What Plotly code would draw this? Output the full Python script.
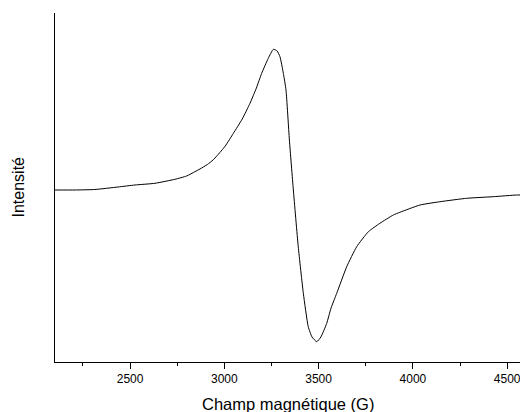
import plotly.graph_objects as go

# Magnetic field (G) and intensity (arbitrary units)
field = [2102, 2208, 2314, 2436, 2526, 2632, 2738, 2800, 2844, 2871, 2910, 2940, 2960,
         3005, 3048, 3095, 3136, 3170, 3198, 3233, 3260, 3280, 3295, 3313, 3327, 3345, 3366, 3392,
         3419, 3445, 3465, 3490, 3512, 3543, 3566, 3596, 3649, 3702, 3764,
         3825, 3896, 3931, 4038, 4144, 4285, 4426, 4550, 4568]
intensity = [0, 0, 0.5, 3, 5, 6.7, 10.7, 14, 18.3, 21, 25.5, 30, 34,
             44, 56.7, 71, 86.7, 102, 116.7, 131.7, 140.7, 139, 133.3, 116.7, 100, 50, 0, -56.7,
             -103.3, -136.7, -147, -151.7, -147, -133.3, -118, -103.3, -76.7, -56.7, -41.7,
             -33.3, -25, -22.3, -15, -11.7, -8.3, -6.7, -5, -5]

x_ticks = [2500, 3000, 3500, 4000, 4500]
x_minor = [2250, 2750, 3250, 3750, 4250]

fig = go.Figure(go.Scatter(
    x=field, y=intensity, mode="lines",
    line=dict(color="black", width=1, shape="spline", smoothing=0.5),
    hoverinfo="skip", showlegend=False,
))

fig.update_layout(
    width=520, height=412,
    margin=dict(l=55, r=0, t=13, b=50),
    paper_bgcolor="white", plot_bgcolor="white",
    font=dict(family="Liberation Sans, Arial, sans-serif", color="black"),
    xaxis=dict(
        range=[2102, 4568], tickvals=x_ticks, ticktext=[str(v) for v in x_ticks],
        automargin=False, ticklabeloverflow="allow",
        showline=True, linecolor="black", linewidth=1, mirror=False,
        ticks="outside", ticklen=6, tickwidth=1, tickcolor="black",
        minor=dict(tickvals=x_minor, ticks="outside",
                   ticklen=3, tickwidth=1, tickcolor="black"),
        showgrid=False, zeroline=False,
        tickfont=dict(size=12),
    ),
    yaxis=dict(
        range=[-172, 177], automargin=False,
        showline=True, linecolor="black", linewidth=1,
        showticklabels=False, ticks="", showgrid=False, zeroline=False,
    ),
    annotations=[
        dict(text="Champ magnétique (G)", xref="paper", yref="paper",
             x=0.5, y=-0.09, xanchor="center", yanchor="top",
             showarrow=False, font=dict(size=16.5)),
        dict(text="Intensité", xref="paper", yref="paper",
             x=0, xshift=-37, y=0.5, xanchor="center", yanchor="middle",
             textangle=-90, showarrow=False, font=dict(size=16)),
    ],
)

fig.write_html("out.html", config={"displayModeBar": False},
               post_script="document.body.style.margin='0';")
